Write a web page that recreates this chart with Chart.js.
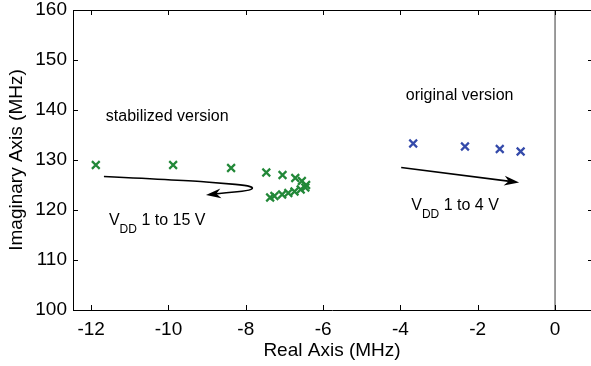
<!DOCTYPE html>
<html><head><meta charset="utf-8">
<script src="https://cdn.jsdelivr.net/npm/chart.js@4/dist/chart.umd.min.js"></script>
<style>html,body{margin:0;padding:0;background:#fff}#wrap{width:591px;height:366px}</style>
</head><body><div id="wrap"><canvas id="c" width="591" height="366"></canvas></div>
<script>
// Data (MHz)
const stabilizedReal = [-11.88, -9.88, -8.38, -7.47, -7.05, -6.72, -6.55, -6.44, -6.46, -6.58, -6.74, -6.90, -7.06, -7.26, -7.37];
const stabilizedImag = [129.0, 129.0, 128.4, 127.5, 127.0, 126.4, 125.8, 125.0, 124.5, 124.1, 123.7, 123.4, 123.1, 122.8, 122.5];
const originalReal = [-3.67, -2.33, -1.43, -0.89];
const originalImag = [133.3, 132.7, 132.2, 131.7];
const xTicks = [-12, -10, -8, -6, -4, -2, 0];
const yTicks = [100, 110, 120, 130, 140, 150, 160];
// annotation arrows (data coordinates)
const greenArrowX = [-11.67, -9.5, -8.55, -8.0, -7.78, -7.95, -8.5, -9.03];
const greenArrowY = [126.7, 125.9, 125.3, 124.95, 124.4, 123.85, 123.45, 123.0];
const blueArrowX = [-3.98, -0.93];
const blueArrowY = [128.5, 125.5];

const FONT = '"Liberation Sans", Arial, sans-serif';
const green = 'rgb(34,136,56)';
const blue = 'rgb(52,74,170)';

const pts = (xs, ys) => xs.map((x, i) => ({x, y: ys[i]}));

const annot = {
  id: 'annot',
  afterDatasetsDraw(chart) {
    const ctx = chart.ctx, xs = chart.scales.x, ys = chart.scales.y, ca = chart.chartArea;
    ctx.save();
    ctx.strokeStyle = '#000'; ctx.lineWidth = 1;
    ctx.beginPath(); ctx.moveTo(ca.left, ca.top + 0.5); ctx.lineTo(ca.right, ca.top + 0.5); ctx.stroke();
    ctx.beginPath();
    xTicks.forEach(v => { const p = Math.round(xs.getPixelForValue(v)) + 0.5;
      ctx.moveTo(p, ca.bottom); ctx.lineTo(p, ca.bottom - 5);
      ctx.moveTo(p, ca.top); ctx.lineTo(p, ca.top + 5); });
    yTicks.forEach(v => { const p = Math.round(ys.getPixelForValue(v)) + 0.5;
      ctx.moveTo(ca.left, p); ctx.lineTo(ca.left + 5, p);
      ctx.moveTo(ca.right + 2, p); ctx.lineTo(ca.right - 3, p); });
    ctx.stroke();
    function arrow(ax, ay) {
      const px = ax.map(v => xs.getPixelForValue(v)), py = ay.map(v => ys.getPixelForValue(v));
      const n = px.length;
      const dx = px[n-1] - px[n-2], dy = py[n-1] - py[n-2];
      const L = Math.hypot(dx, dy), ux = dx / L, uy = dy / L;
      const hl = 15, hw = 5;
      ctx.strokeStyle = '#000'; ctx.lineWidth = 1.6; ctx.lineJoin = 'round';
      ctx.beginPath(); ctx.moveTo(px[0], py[0]);
      if (n > 2) {
        for (let i = 1; i < n - 1; i++) {
          const mx = (px[i] + px[i+1]) / 2, my = (py[i] + py[i+1]) / 2;
          if (i === n - 2) ctx.quadraticCurveTo(px[i], py[i], px[n-1] - ux*hl*0.6, py[n-1] - uy*hl*0.6);
          else ctx.quadraticCurveTo(px[i], py[i], mx, my);
        }
      } else {
        ctx.lineTo(px[1] - ux*hl*0.6, py[1] - uy*hl*0.6);
      }
      ctx.stroke();
      const tx = px[n-1], ty = py[n-1];
      const bx = tx - ux*hl, by = ty - uy*hl;
      ctx.fillStyle = '#000';
      ctx.beginPath(); ctx.moveTo(tx, ty);
      ctx.lineTo(bx - uy*hw, by + ux*hw);
      ctx.lineTo(tx - ux*hl*0.7, ty - uy*hl*0.7);
      ctx.lineTo(bx + uy*hw, by - ux*hw);
      ctx.closePath(); ctx.fill();
    }
    arrow(greenArrowX, greenArrowY);
    arrow(blueArrowX, blueArrowY);
    ctx.fillStyle = '#000'; ctx.textBaseline = 'middle'; ctx.textAlign = 'left';
    ctx.font = '16px ' + FONT;
    ctx.fillText('stabilized version', xs.getPixelForValue(-11.62), ys.getPixelForValue(138.6));
    ctx.fillText('original version', xs.getPixelForValue(-3.86), ys.getPixelForValue(142.8));
    function vdd(x, y, rest) {
      let px = xs.getPixelForValue(x), py = ys.getPixelForValue(y);
      ctx.font = '16px ' + FONT; ctx.fillText('V', px, py);
      px += ctx.measureText('V').width;
      ctx.font = '12px ' + FONT; ctx.fillText('DD', px, py + 9);
      px += ctx.measureText('DD').width;
      ctx.font = '16px ' + FONT; ctx.fillText(rest, px, py);
    }
    vdd(-11.54, 117.9, ' 1 to 15 V');
    vdd(-3.72, 120.9, ' 1 to 4 V');
    ctx.restore();
  }
};

new Chart(document.getElementById('c'), {
  type: 'scatter',
  data: {
    datasets: [
      { data: [{x: 0, y: 100}, {x: 0, y: 160}], showLine: true, borderColor: '#7a7a7a', borderWidth: 1.5, pointRadius: 0, order: 3 },
      { data: pts(stabilizedReal, stabilizedImag), pointStyle: 'crossRot', pointRadius: 5.5, borderColor: green, backgroundColor: green, pointBorderWidth: 2.2, order: 1 },
      { data: pts(originalReal, originalImag), pointStyle: 'crossRot', pointRadius: 5.5, borderColor: blue, backgroundColor: blue, pointBorderWidth: 2.2, order: 1 }
    ]
  },
  options: {
    responsive: false, animation: false, devicePixelRatio: 1,
    layout: { autoPadding: false, padding: { top: 10, right: 0, left: 0, bottom: 0 } },
    plugins: { legend: { display: false }, tooltip: { enabled: false } },
    scales: {
      x: {
        type: 'linear', min: -12.47, max: 0.93,
        afterBuildTicks: s => { s.ticks = xTicks.map(v => ({value: v})); },
        afterFit: s => { s.height = 56; s.paddingLeft = 0; s.paddingRight = 0; },
        grid: { display: false, drawTicks: false },
        border: { display: true, color: '#000', width: 1 },
        ticks: { color: '#000', font: { family: FONT, size: 19 }, padding: 8, maxRotation: 0, autoSkip: false },
        title: { display: true, text: 'Real Axis (MHz)', color: '#000', font: { family: FONT, size: 19 }, padding: { top: 0, bottom: 4 } }
      },
      y: {
        type: 'linear', min: 100, max: 160,
        afterBuildTicks: s => { s.ticks = yTicks.map(v => ({value: v})); },
        afterFit: s => { s.width = 73; s.paddingTop = 0; s.paddingBottom = 0; },
        grid: { display: false, drawTicks: false },
        border: { display: true, color: '#000', width: 1 },
        ticks: { color: '#000', font: { family: FONT, size: 19 }, padding: 6, autoSkip: false },
        title: { display: true, text: 'Imaginary Axis (MHz)', color: '#000', font: { family: FONT, size: 19 }, padding: { top: 5, bottom: 0 } }
      }
    }
  },
  plugins: [annot]
});
</script></body></html>
